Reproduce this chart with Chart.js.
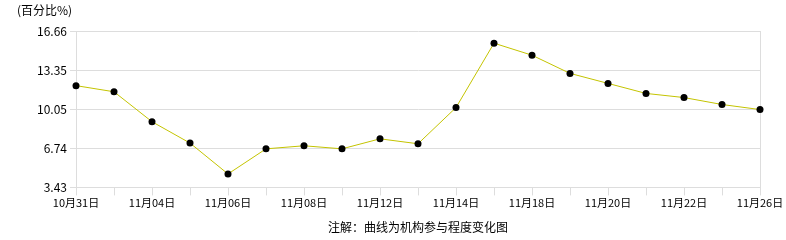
<!DOCTYPE html>
<html>
<head>
<meta charset="utf-8">
<script src="https://cdn.jsdelivr.net/npm/chart.js@4"></script>
<style>
  html, body { margin: 0; padding: 0; background: #fff; }
  #wrap { width: 786px; height: 240px; }
</style>
</head>
<body>
<div id="wrap"><canvas id="grafico"></canvas></div>
<script>
// datos
var fechas = ['10月31日', '11月01日', '11月04日', '11月05日', '11月06日', '11月07日', '11月08日',
  '11月11日', '11月12日', '11月13日', '11月14日', '11月15日', '11月18日', '11月19日',
  '11月20日', '11月21日', '11月22日', '11月25日', '11月26日'];
var participacion = [12.06, 11.54, 9.00, 7.19, 4.57, 6.70, 6.96, 6.70, 7.55, 7.13,
  10.20, 15.66, 14.64, 13.10, 12.25, 11.40, 11.05, 10.46, 10.03];
var marcasY = [3.43, 6.74, 10.05, 13.35, 16.66];

var fuente = '"Noto Sans CJK SC", "DejaVu Sans", sans-serif';
var gris = '#dddddd';

var ctx = document.getElementById('grafico').getContext('2d');
var grafico = new Chart(ctx, {
    type: 'line',
    data: {
        labels: fechas,
        datasets: [{
            data: participacion,
            borderColor: '#c4c400',
            borderWidth: 1,
            pointBackgroundColor: '#000',
            pointBorderColor: '#000',
            pointRadius: 3.5,
            pointBorderWidth: 0,
            tension: 0
        }]
    },
    options: {
        responsive: true,
        maintainAspectRatio: false,
        animation: false,
        layout: { padding: { left: 17, right: 26, top: 0, bottom: 2 } },
        plugins: {
            legend: { display: false },
            tooltip: { enabled: false },
            title: {
                display: true,
                text: '(百分比%)',
                align: 'start',
                color: '#000',
                font: { family: fuente, size: 12, weight: 'normal' },
                padding: { top: 3, bottom: 14 }
            },
            subtitle: {
                display: true,
                position: 'bottom',
                fullSize: false,
                text: '注解：曲线为机构参与程度变化图',
                color: '#000',
                font: { family: fuente, size: 12, weight: 'normal' },
                padding: { top: 10, bottom: 3 }
            }
        },
        scales: {
            x: {
                offset: false,
                grid: {
                    drawOnChartArea: false,
                    drawTicks: true,
                    tickLength: 8,
                    color: gris
                },
                border: { color: gris },
                ticks: {
                    autoSkip: false,
                    maxRotation: 0,
                    padding: 1,
                    color: '#000',
                    font: { family: fuente, size: 11 },
                    callback: function(valor, indice) {
                        return indice % 2 === 0 ? fechas[indice] : '';
                    }
                }
            },
            y: {
                min: marcasY[0],
                max: marcasY[marcasY.length - 1],
                afterBuildTicks: function(eje) {
                    eje.ticks = marcasY.map(function(v) { return { value: v }; });
                },
                afterFit: function(eje) { eje.width = 59; },
                grid: { color: gris, drawTicks: true, tickLength: 6 },
                border: { color: gris },
                ticks: {
                    padding: 3,
                    color: '#000',
                    font: { family: fuente, size: 12 },
                    callback: function(valor) { return valor.toFixed(2); }
                }
            },
            y2: {
                position: 'right',
                min: marcasY[0],
                max: marcasY[marcasY.length - 1],
                grid: { display: false },
                border: { color: gris },
                ticks: { display: false },
                afterFit: function(eje) { eje.width = 0; }
            }
        }
    }
});
</script>
</body>
</html>
